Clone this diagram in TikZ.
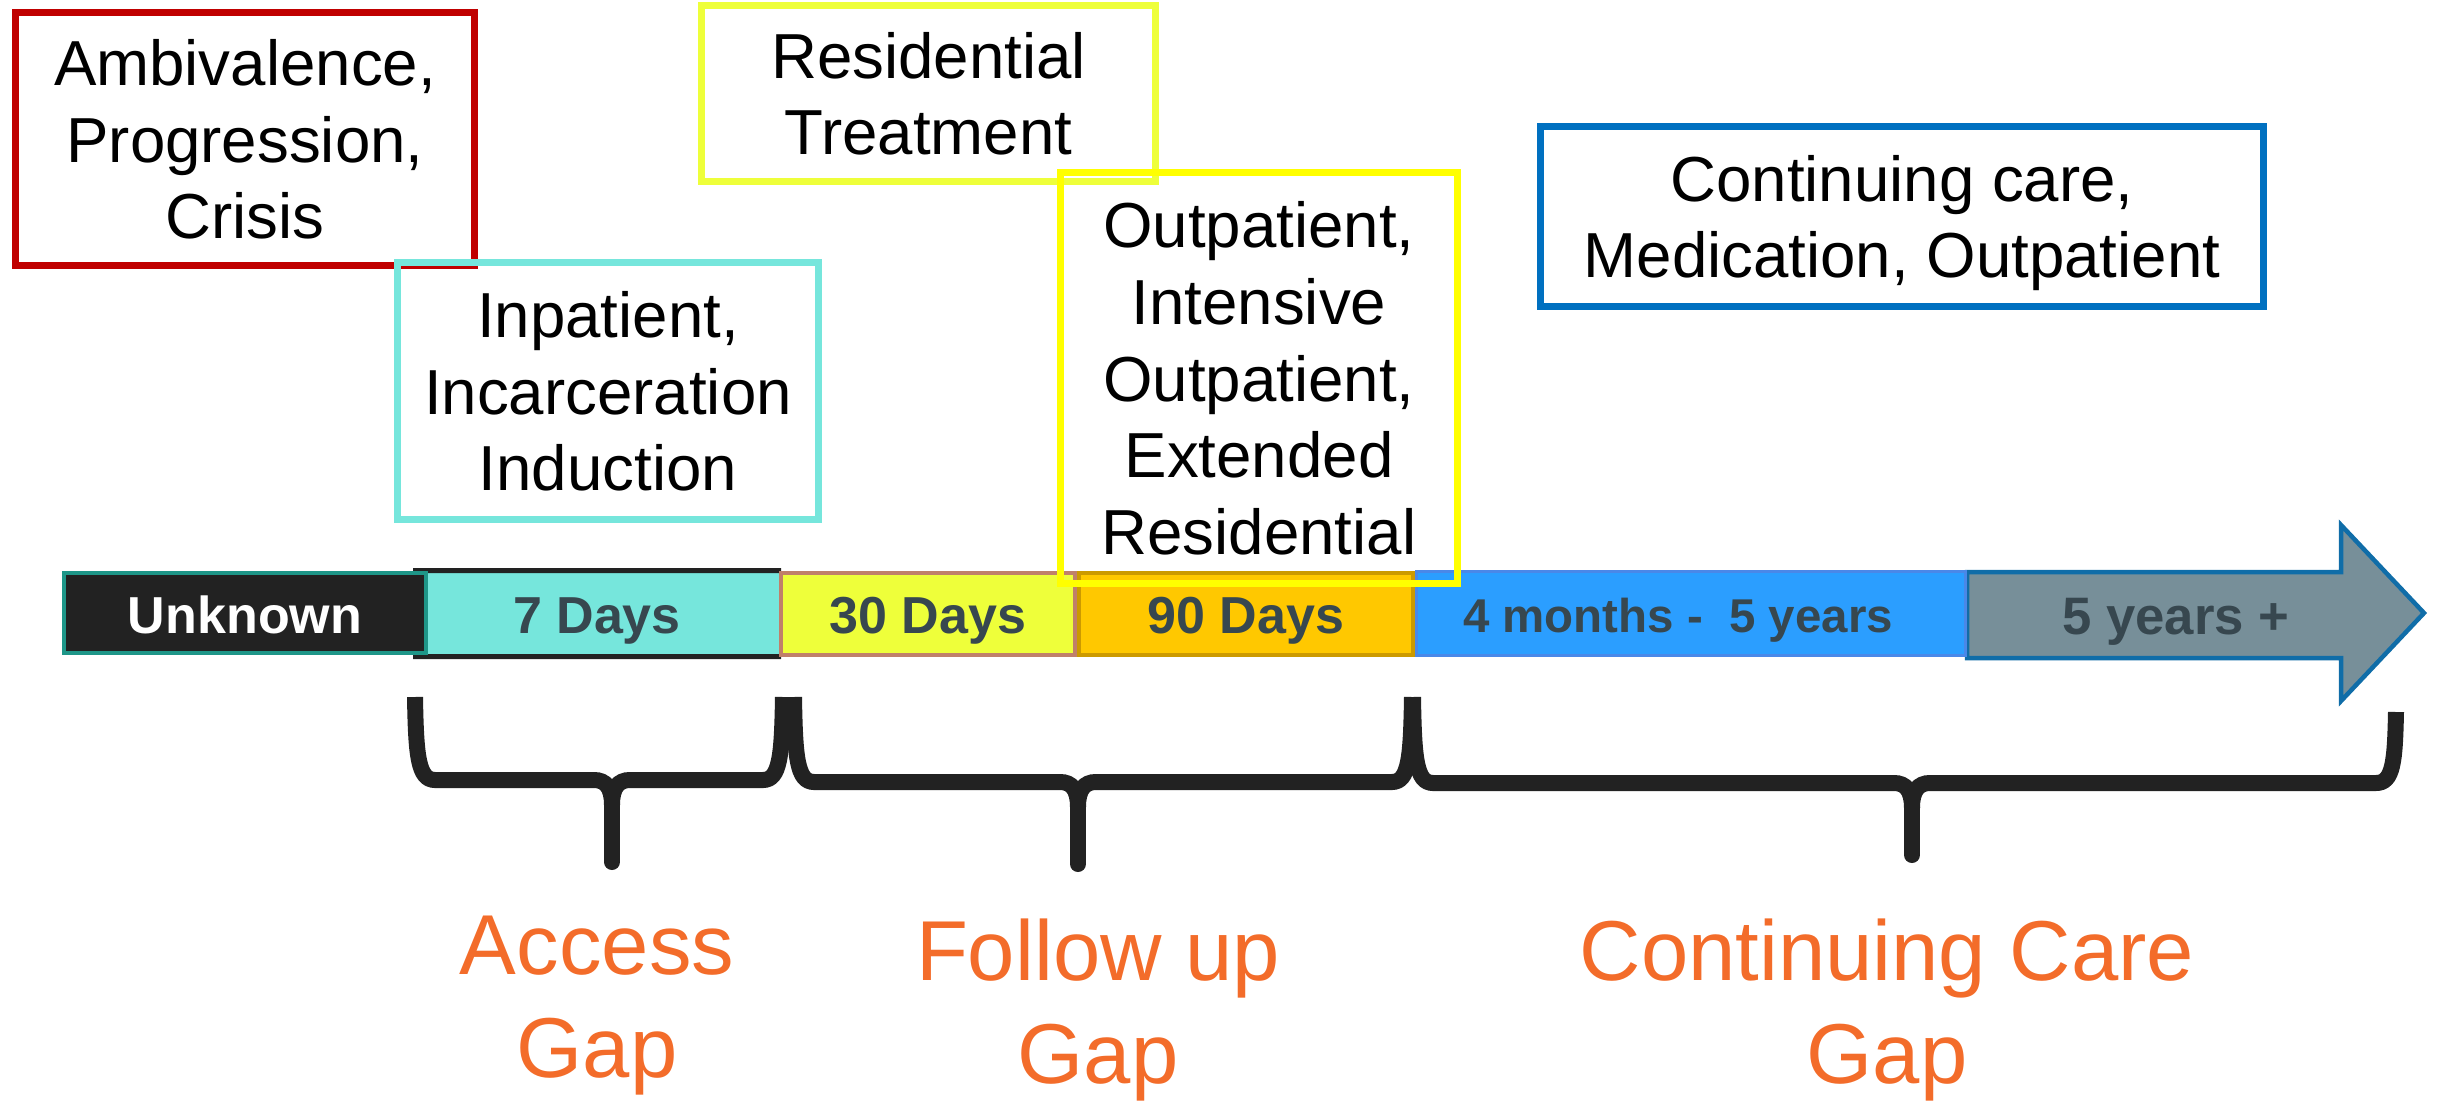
\documentclass[tikz,border=0pt]{standalone}
\usepackage{fontspec}
\setmainfont{Liberation Sans}
\definecolor{cRed}{HTML}{C00000}
\definecolor{cCyan}{HTML}{76E6DC}
\definecolor{cLime}{HTML}{EEFF3A}
\definecolor{cYellow}{HTML}{FFFF00}
\definecolor{cBlueBox}{HTML}{0070C0}
\definecolor{cDark}{HTML}{222222}
\definecolor{cTeal}{HTML}{1E9688}
\definecolor{cBrown}{HTML}{C0806A}
\definecolor{cGold}{HTML}{FFC800}
\definecolor{cGoldDk}{HTML}{CC9A00}
\definecolor{cSky}{HTML}{2B9EFF}
\definecolor{cSkyDk}{HTML}{4A88E8}
\definecolor{cSlate}{HTML}{778F99}
\definecolor{cSlateDk}{HTML}{106DA8}
\definecolor{cText}{HTML}{37474F}
\definecolor{cOrange}{HTML}{F36C2A}
\begin{document}
\begin{tikzpicture}[x=0.1mm,y=-0.1mm,
  tbox/.style={draw, line width=0.7mm, align=center, inner sep=0pt,
    font=\fontsize{18.1}{21.8}\selectfont, text depth=0pt},
  seg/.style={inner sep=0pt, line width=0.4mm},
  segtext/.style={inner sep=0pt, anchor=base, text=cText,
    font=\bfseries\fontsize{14.8}{17}\selectfont},
  gaplabel/.style={inner sep=0pt, align=center, text=cOrange, text depth=0pt,
    font=\fontsize{24.2}{29.2}\selectfont},
  bracepath/.style={draw=cDark, line width=1.6mm},
  bracestem/.style={draw=cDark, line width=1.6mm, line cap=round}]
\useasboundingbox (0,0) rectangle (2450,1101);

% ---- timeline bar ----
\draw[fill=cSlate, draw=cSlateDk, line width=0.45mm, line join=miter]
  (1967,572) -- (2341,572) -- (2341,525) -- (2424,613) -- (2341,701)
  -- (2341,658) -- (1967,658) -- cycle;
\node[seg, fill=cSky, draw=cSkyDk, line width=0.3mm, minimum width=54.9mm, minimum height=8.4mm] (s4m) at (1691,613.5) {};
\node[seg, fill=cCyan, minimum width=36.4mm, minimum height=8.7mm] (s7) at (597,613.5) {};
\draw[cDark, line width=0.5mm] (s7.north west) ++(0,2.5) -- ([yshift=-0.25mm]s7.north east);
\draw[cDark, line width=0.5mm] (s7.south west) ++(0,-2.5) -- ([yshift=0.25mm]s7.south east);
\node[seg, fill=cDark, draw=cTeal, minimum width=36.2mm, minimum height=8.0mm] (sunk) at (245,613) {};
\node[seg, fill=cLime, draw=cBrown, minimum width=29.4mm, minimum height=8.2mm] (s30) at (928,614) {};
\node[seg, fill=cGold, draw=cGoldDk, minimum width=33.4mm, minimum height=8.2mm] (s90) at (1246,614) {};

\node[segtext, text=white] (tunk) at (245,633) {Unknown};
\node[segtext] (t7) at (597,633) {7 Days};
\node[segtext] (t30) at (928,633) {30 Days};
\node[segtext] (t90) at (1246,633) {90 Days};
\node[segtext, font=\bfseries\fontsize{13.5}{16}\selectfont] (t4m) at (1678,632) {4 months -\ \ 5 years};
\node[segtext, font=\bfseries\fontsize{15}{17}\selectfont] (t5y) at (2176,634) {5 years +};

% ---- text boxes ----
\node[tbox, draw=cRed, minimum width=45.9mm, minimum height=25.3mm] (amb) at (245,139)
  {Ambivalence,\\Progression,\\Crisis};
\node[tbox, draw=cCyan, minimum width=42.1mm, minimum height=25.7mm] (inp) at (608,391)
  {Inpatient,\\Incarceration\\Induction};
\node[tbox, draw=cLime, minimum width=45.4mm, minimum height=17.6mm] (res) at (928.5,93.5)
  {Residential\\Treatment};
\node[tbox, draw=cYellow, minimum width=39.7mm, minimum height=41.1mm] (outp) at (1259,378)
  {Outpatient,\\Intensive\\Outpatient,\\Extended\\Residential};
\node[tbox, draw=cBlueBox, minimum width=72.3mm, minimum height=18.0mm] (cont) at (1902,216.5)
  {Continuing care,\\Medication, Outpatient};

% ---- braces ----
% access gap
\draw[bracepath] (415,697) .. controls (416,755) and (418,780) .. (435,780) -- (594,780)
  .. controls (606,780) and (612,788) .. (612,805);
\draw[bracepath] (783,697) .. controls (782,755) and (780,780) .. (763,780) -- (630,780)
  .. controls (618,780) and (612,788) .. (612,805);
\draw[bracestem] (612,800) -- (612,862);
% follow up gap
\draw[bracepath] (794,697) .. controls (795,757) and (797,782) .. (814,782) -- (1060,782)
  .. controls (1072,782) and (1078,790) .. (1078,807);
\draw[bracepath] (1412,697) .. controls (1411,757) and (1409,782) .. (1392,782) -- (1096,782)
  .. controls (1084,782) and (1078,790) .. (1078,807);
\draw[bracestem] (1078,802) -- (1078,864);
% continuing care gap
\draw[bracepath] (1413,697) .. controls (1414,758) and (1416,783) .. (1433,783) -- (1894,783)
  .. controls (1906,783) and (1912,791) .. (1912,808);
\draw[bracepath] (2396,712) .. controls (2395,762) and (2393,783) .. (2376,783) -- (1930,783)
  .. controls (1918,783) and (1912,791) .. (1912,808);
\draw[bracestem] (1912,803) -- (1912,855);

% ---- gap labels ----
\node[gaplabel] (gacc) at (597,997) {Access\\Gap};
\node[gaplabel] (gfol) at (1098,1001) {Follow up\\Gap};
\node[gaplabel] (gcon) at (1887,1001) {Continuing Care\\Gap};
\end{tikzpicture}
\end{document}
